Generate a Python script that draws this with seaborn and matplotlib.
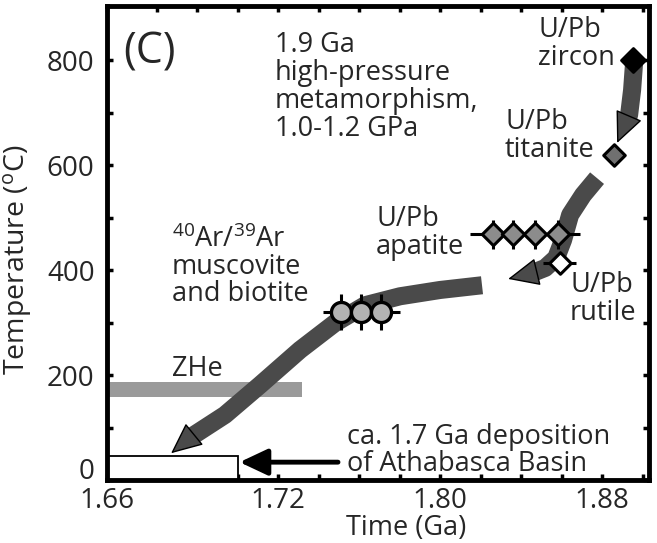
# T-t path figure (C) : U/Pb, Ar/Ar, ZHe cooling ages
import numpy as np
import pandas as pd
import seaborn as sns
import matplotlib.pyplot as plt
from matplotlib.transforms import ScaledTranslation

# --- data (time in Ga, temperature in degC) ---
zircon_t, zircon_T = [1.895], [800]
titanite_t, titanite_T = [1.886], [620]
apatite_t = [1.826, 1.836, 1.847, 1.858]
apatite_T = [468, 468, 468, 468]
rutile_t, rutile_T = [1.859], [413]
arar_t = [1.751, 1.761, 1.771]
arar_T = [320, 320, 320]

apatite_xerr, apatite_yerr = 0.011, 27
rutile_xerr, rutile_yerr = 0.008, 18
arar_xerr, arar_yerr = 0.009, 34

zhe_t = [1.60, 1.732]
zhe_T = [158, 187]
basin_t = [1.60, 1.700]
basin_T = [0, 45]
basin_arrow_t = [1.7496, 1.701]
basin_arrow_T = [34, 34]

# gray cooling paths (last point = arrow tip)
path_a_t = [1.8958, 1.8948, 1.8933, 1.8914, 1.8874]
path_a_T = [796, 743, 695, 678, 642]
path_b_t = [1.8775, 1.8706, 1.8642, 1.8607, 1.8573, 1.8519, 1.8454, 1.8336]
path_b_T = [575, 543, 505, 457, 423, 404, 394, 383]
path_c_t = [1.8207, 1.8000, 1.7802, 1.7630, 1.7481, 1.7309, 1.7111, 1.6938, 1.6770, 1.6672]
path_c_T = [371, 362, 350, 333, 299, 248, 181, 124, 82, 51]

x_tick_pos = [1.6356, 1.72, 1.80, 1.88]
x_tick_labels = ["1.66", "1.72", "1.80", "1.88"]
x_minor = [1.66, 1.68, 1.70, 1.74, 1.76, 1.78, 1.82, 1.84, 1.86, 1.90]
y_tick_pos = [0, 200, 400, 600, 800]
y_minor = [100, 300, 500, 700]

sns.set_style("ticks")
plt.rcParams['font.family'] = ['Open Sans', 'DejaVu Sans']
plt.rcParams['mathtext.fontset'] = 'custom'
plt.rcParams['mathtext.rm'] = 'Open Sans'

FS = 19.5
PATH_C = '#4a4a4a'

fig = plt.figure(figsize=(6.57, 5.43), dpi=100)
ax = fig.add_axes([0.163, 0.116, 0.825, 0.873])

# ZHe band and basin box
ax.fill_between(zhe_t, zhe_T[0], zhe_T[1], color='#9a9a9a', lw=0, zorder=1)
ax.bar(basin_t[0], basin_T[1] - basin_T[0], width=basin_t[1] - basin_t[0], bottom=basin_T[0],
       align='edge', color='white', edgecolor='black', linewidth=1.3, zorder=1)
ax.annotate('', xy=(basin_arrow_t[1], basin_arrow_T[1]), xytext=(basin_arrow_t[0], basin_arrow_T[0]),
            arrowprops=dict(arrowstyle='-|>,head_length=0.85,head_width=0.4', lw=3.5,
                            color='black', mutation_scale=20, shrinkA=0, shrinkB=0))

# gray paths with arrow heads
for pt, pT in [(path_a_t, path_a_T), (path_b_t, path_b_T), (path_c_t, path_c_T)]:
    df = pd.DataFrame({'t': pt[:-1], 'T': pT[:-1]})
    sns.lineplot(data=df, x='t', y='T', sort=False, color=PATH_C, lw=13, ax=ax,
                 solid_joinstyle='round', solid_capstyle='butt', zorder=2)
    ax.annotate('', xy=(pt[-1], pT[-1]), xytext=(pt[-2], pT[-2]),
                arrowprops=dict(arrowstyle='-|>,head_length=1.0,head_width=0.45', lw=1,
                                fc=PATH_C, ec='black', mutation_scale=20,
                                shrinkA=0, shrinkB=0), zorder=3)

# error bars
ax.errorbar(apatite_t, apatite_T, xerr=apatite_xerr, yerr=apatite_yerr, fmt='none',
            ecolor='black', elinewidth=2.2, capsize=0, zorder=4)
ax.errorbar(rutile_t, rutile_T, xerr=rutile_xerr, yerr=rutile_yerr, fmt='none',
            ecolor='black', elinewidth=2.2, capsize=0, zorder=4)
ax.errorbar(arar_t, arar_T, xerr=arar_xerr, yerr=arar_yerr, fmt='none',
            ecolor='black', elinewidth=2.2, capsize=0, zorder=4)

# markers
sns.scatterplot(x=zircon_t, y=zircon_T, marker='D', s=150, color='black',
                edgecolor='black', linewidth=2, ax=ax, zorder=5)
sns.scatterplot(x=titanite_t, y=titanite_T, marker='D', s=120, color='#707070',
                edgecolor='black', linewidth=2.2, ax=ax, zorder=5)
sns.scatterplot(x=apatite_t, y=apatite_T, marker='D', s=130, color='#8c8c8c',
                edgecolor='black', linewidth=2.2, ax=ax, zorder=5)
sns.scatterplot(x=rutile_t, y=rutile_T, marker='D', s=120, color='white',
                edgecolor='black', linewidth=2.2, ax=ax, zorder=5)
sns.scatterplot(x=arar_t, y=arar_T, marker='o', s=210, color='#b3b3b3',
                edgecolor='black', linewidth=2.4, ax=ax, zorder=5)

# annotations
ax.text(1.6434, 815, "(C)", fontsize=31, va='center', ha='left')
ax.text(1.7185, 855, "1.9 Ga\nhigh-pressure\nmetamorphism,\n1.0-1.2 GPa",
        fontsize=FS, va='top', ha='left', linespacing=1.0)
ax.text(1.8484, 884, "U/Pb\nzircon", fontsize=FS, va='top', ha='left', linespacing=1.0)
ax.text(1.8321, 709, "U/Pb\ntitanite", fontsize=FS, va='top', ha='left', linespacing=1.0)
ax.text(1.7684, 524, "U/Pb\napatite", fontsize=FS, va='top', ha='left', linespacing=1.0)
ax.text(1.8642, 398, "U/Pb\nrutile", fontsize=FS, va='top', ha='left', linespacing=1.0)
ax.text(1.6677, 484, r"$\mathregular{^{40}}$Ar/$\mathregular{^{39}}$Ar" + "\nmuscovite\nand biotite",
        fontsize=FS, va='top', ha='left', linespacing=0.95)
ax.text(1.6677, 211, "ZHe", fontsize=FS, va='center', ha='left')
ax.text(1.7541, 109, "ca. 1.7 Ga deposition\nof Athabasca Basin",
        fontsize=FS, va='top', ha='left', linespacing=0.95)

# axes
ax.set_xlim(1.6356, 1.9032)
ax.set_ylim(0, 903)
ax.set_xticks(x_tick_pos)
ax.set_xticklabels(x_tick_labels)
ax.set_xticks(x_minor, minor=True)
ax.set_yticks(y_tick_pos)
ax.set_yticks(y_minor, minor=True)
ax.tick_params(which='both', direction='in', top=True, right=True, length=4, width=2.5,
               labelsize=20, color='black')
ax.tick_params(axis='y', pad=9)
ax.tick_params(axis='x', pad=5)
for s in ax.spines.values():
    s.set_linewidth(3.5)
    s.set_color('black')

# lift the corner "0" label a little, like the original
lbl0 = ax.get_yticklabels()[0]
lbl0.set_transform(lbl0.get_transform() + ScaledTranslation(0, 0.12, fig.dpi_scale_trans))

ax.set_xlabel("Time (Ga)", fontsize=19.5)
ax.set_ylabel(r"Temperature ($\mathregular{^{o}}$C)", fontsize=20.5)
ax.xaxis.set_label_coords(0.551, -0.072)
ax.yaxis.set_label_coords(-0.135, 0.465)

fig.savefig("out.png", dpi=100)
